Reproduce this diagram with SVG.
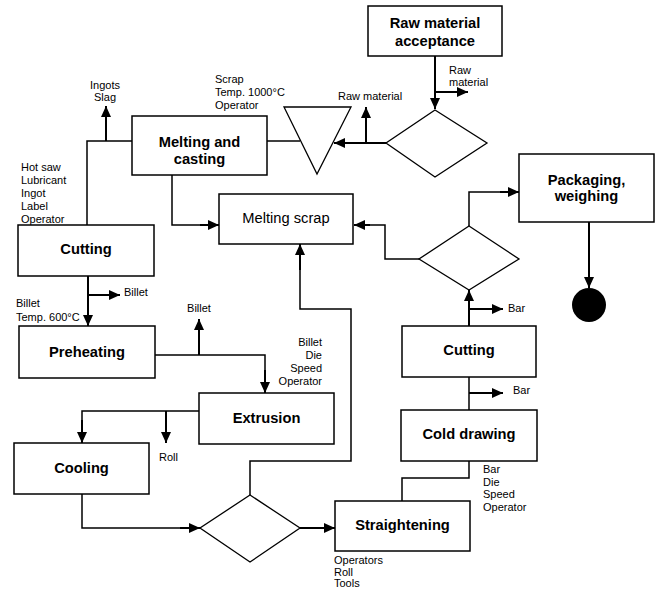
<svg xmlns="http://www.w3.org/2000/svg" width="661" height="590" viewBox="0 0 661 590">
<style>
  .box { fill: #fff; stroke: #000; stroke-width: 1.5; }
  .shape { fill: #fff; stroke: #000; stroke-width: 1.3; }
  .t { font-family: "Liberation Sans", Arial, sans-serif; font-size: 14.7px; text-anchor: middle; fill: #000; }
  .b { font-weight: bold; }
  .s { font-family: "Liberation Sans", Arial, sans-serif; font-size: 11px; fill: #000; }
  .c { fill: none; stroke: #000; stroke-width: 1.5; }
  .a { fill: none; stroke: #000; stroke-width: 2; marker-end: url(#ah); }
</style>
<defs>
  <marker id="ah" markerWidth="11" markerHeight="10" refX="11" refY="5" orient="auto" markerUnits="userSpaceOnUse">
    <path d="M0,0 L11,5 L0,10 z" fill="#000"/>
  </marker>
</defs>
<rect width="661" height="590" fill="#fff"/>

<g id="connectors">
  <path class="a" d="M435,56 V109"/>
  <path class="a" d="M435,92 H468"/>
  <path class="a" d="M386,143 H334"/>
  <path class="a" d="M366,143 V107"/>
  <path class="c" d="M267,141 H300"/>
  <path class="c" d="M132,141 H87 V225"/>
  <path class="a" d="M106,141 V106"/>
  <path class="c" d="M172,175 V225 H200"/>
  <path class="a" d="M200,225 H219"/>
  <path class="c" d="M419,259 H385 V225 H370"/>
  <path class="a" d="M370,225 H354"/>
  <path class="c" d="M469,226 V192 H500"/>
  <path class="a" d="M500,192 H519"/>
  <path class="a" d="M589,222 V288"/>
  <path class="a" d="M469,326 V290"/>
  <path class="a" d="M469,309 H503"/>
  <path class="c" d="M469,410 V377"/>
  <path class="a" d="M469,393 H503"/>
  <path class="c" d="M469,461 V478 H402 V501"/>
  <path class="a" d="M88,276 V326"/>
  <path class="a" d="M88,295 H120"/>
  <path class="c" d="M155,355 H265 V375"/>
  <path class="a" d="M265,370 V393"/>
  <path class="a" d="M199,355 V319"/>
  <path class="c" d="M199,411 H82 V425"/>
  <path class="a" d="M82,420 V443"/>
  <path class="a" d="M166,411 V443"/>
  <path class="c" d="M82,494 V528 H180"/>
  <path class="a" d="M180,528 H200"/>
  <path class="a" d="M300,528 H335"/>
  <path class="c" d="M250,495 V461 H351 V309 H300 V265"/>
  <path class="a" d="M300,270 V244"/>
</g>

<g id="raw-material-acceptance">
  <rect class="box" x="368" y="6" width="134" height="50"/>
  <text class="t b" x="435" y="28">Raw material</text>
  <text class="t b" x="435" y="46">acceptance</text>
</g>
<g id="raw-material-out-label">
  <text class="s" x="449" y="74">Raw</text>
  <text class="s" x="449" y="86">material</text>
</g>
<g id="decision-1">
  <polygon class="shape" points="435,110 487,143 435,177 386,143"/>
</g>
<g id="raw-material-label">
  <text class="s" x="338" y="100">Raw material</text>
</g>
<g id="storage-triangle">
  <polygon class="shape" points="284,107 351,107 317,174"/>
</g>
<g id="melting-inputs">
  <text class="s" x="215" y="83">Scrap</text>
  <text class="s" x="215" y="96">Temp. 1000°C</text>
  <text class="s" x="215" y="109">Operator</text>
</g>
<g id="melting-casting">
  <rect class="box" x="132" y="116" width="135" height="59"/>
  <text class="t b" x="199.5" y="147">Melting and</text>
  <text class="t b" x="199.5" y="164">casting</text>
</g>
<g id="ingots-label">
  <text class="s" x="105" y="89" text-anchor="middle">Ingots</text>
  <text class="s" x="105" y="101" text-anchor="middle">Slag</text>
</g>
<g id="cutting-inputs">
  <text class="s" x="21" y="171">Hot saw</text>
  <text class="s" x="21" y="184">Lubricant</text>
  <text class="s" x="21" y="197">Ingot</text>
  <text class="s" x="21" y="210">Label</text>
  <text class="s" x="21" y="223">Operator</text>
</g>
<g id="melting-scrap">
  <rect class="box" x="219" y="194" width="134" height="50"/>
  <text class="t" x="286" y="223">Melting scrap</text>
</g>
<g id="packaging">
  <rect class="box" x="519" y="154" width="135" height="68"/>
  <text class="t b" x="586.5" y="185">Packaging,</text>
  <text class="t b" x="586.5" y="201">weighing</text>
</g>
<g id="end">
  <circle cx="589" cy="305" r="17" fill="#000"/>
</g>
<g id="decision-2">
  <polygon class="shape" points="469,226 519,259 469,290 419,259"/>
</g>
<g id="cutting-1">
  <rect class="box" x="18" y="225" width="136" height="51"/>
  <text class="t b" x="86" y="254">Cutting</text>
</g>
<g id="billet-labels">
  <text class="s" x="124" y="296">Billet</text>
  <text class="s" x="16" y="307">Billet</text>
  <text class="s" x="16" y="321">Temp. 600°C</text>
  <text class="s" x="199" y="312" text-anchor="middle">Billet</text>
</g>
<g id="preheating">
  <rect class="box" x="19" y="326" width="136" height="52"/>
  <text class="t b" x="87" y="357">Preheating</text>
</g>
<g id="extrusion-inputs">
  <text class="s" x="322" y="346" text-anchor="end">Billet</text>
  <text class="s" x="322" y="359" text-anchor="end">Die</text>
  <text class="s" x="322" y="372" text-anchor="end">Speed</text>
  <text class="s" x="322" y="385" text-anchor="end">Operator</text>
</g>
<g id="extrusion">
  <rect class="box" x="199" y="393" width="135" height="51"/>
  <text class="t b" x="266.5" y="423">Extrusion</text>
</g>
<g id="roll-label">
  <text class="s" x="159" y="461">Roll</text>
</g>
<g id="cooling">
  <rect class="box" x="14" y="443" width="135" height="51"/>
  <text class="t b" x="81.5" y="473">Cooling</text>
</g>
<g id="decision-3">
  <polygon class="shape" points="250,495 300,528 250,562 200,528"/>
</g>
<g id="cutting-2">
  <rect class="box" x="402" y="326" width="134" height="51"/>
  <text class="t b" x="469" y="355">Cutting</text>
  <text class="s" x="508" y="312">Bar</text>
  <text class="s" x="513" y="394">Bar</text>
</g>
<g id="cold-drawing">
  <rect class="box" x="401" y="410" width="136" height="51"/>
  <text class="t b" x="469" y="439">Cold drawing</text>
</g>
<g id="cold-drawing-inputs">
  <text class="s" x="483" y="473">Bar</text>
  <text class="s" x="483" y="486">Die</text>
  <text class="s" x="483" y="498">Speed</text>
  <text class="s" x="483" y="511">Operator</text>
</g>
<g id="straightening">
  <rect class="box" x="335" y="501" width="135" height="50"/>
  <text class="t b" x="402.5" y="530">Straightening</text>
</g>
<g id="straightening-inputs">
  <text class="s" x="334" y="564">Operators</text>
  <text class="s" x="334" y="576">Roll</text>
  <text class="s" x="334" y="587">Tools</text>
</g>
</svg>
